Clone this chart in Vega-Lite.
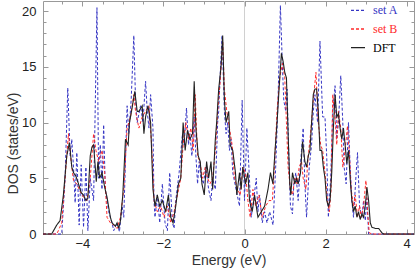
{
  "$schema": "https://vega.github.io/schema/vega-lite/v6.json",
  "width": 371,
  "height": 233,
  "autosize": "none",
  "padding": {"left": 43, "top": 1, "right": 1, "bottom": 37},
  "config": {
    "view": {"stroke": "#999999", "strokeWidth": 1},
    "axis": {"grid": false, "domain": false, "tickColor": "#999999", "tickWidth": 1}
  },
  "datasets": {
    "A": [
      {"E":-4.97,"DOS":0,"series":"set A"},{"E":-4.508,"DOS":0,"series":"set A"},{"E":-4.425,"DOS":5,"series":"set A"},{"E":-4.359,"DOS":13.1,"series":"set A"},{"E":-4.301,"DOS":7,"series":"set A"},{"E":-4.26,"DOS":8.5,"series":"set A"},{"E":-4.218,"DOS":6,"series":"set A"},{"E":-4.177,"DOS":2.8,"series":"set A"},{"E":-4.136,"DOS":7.3,"series":"set A"},{"E":-4.078,"DOS":0.8,"series":"set A"},{"E":-4.028,"DOS":6.2,"series":"set A"},{"E":-3.97,"DOS":0.6,"series":"set A"},{"E":-3.912,"DOS":6,"series":"set A"},{"E":-3.863,"DOS":0.3,"series":"set A"},{"E":-3.805,"DOS":5,"series":"set A"},{"E":-3.722,"DOS":3,"series":"set A"},{"E":-3.639,"DOS":20.3,"series":"set A"},{"E":-3.598,"DOS":5,"series":"set A"},{"E":-3.557,"DOS":8,"series":"set A"},{"E":-3.515,"DOS":4,"series":"set A"},{"E":-3.474,"DOS":9.8,"series":"set A"},{"E":-3.433,"DOS":4,"series":"set A"},{"E":-3.35,"DOS":2,"series":"set A"},{"E":-3.267,"DOS":1,"series":"set A"},{"E":-3.226,"DOS":0.3,"series":"set A"},{"E":-3.143,"DOS":1,"series":"set A"},{"E":-3.085,"DOS":0.2,"series":"set A"},{"E":-3.019,"DOS":2.5,"series":"set A"},{"E":-2.978,"DOS":1.5,"series":"set A"},{"E":-2.895,"DOS":11.5,"series":"set A"},{"E":-2.854,"DOS":9,"series":"set A"},{"E":-2.796,"DOS":12,"series":"set A"},{"E":-2.73,"DOS":17.8,"series":"set A"},{"E":-2.688,"DOS":12,"series":"set A"},{"E":-2.647,"DOS":10,"series":"set A"},{"E":-2.564,"DOS":11.5,"series":"set A"},{"E":-2.506,"DOS":10,"series":"set A"},{"E":-2.44,"DOS":13.7,"series":"set A"},{"E":-2.399,"DOS":11,"series":"set A"},{"E":-2.357,"DOS":9.5,"series":"set A"},{"E":-2.316,"DOS":12.5,"series":"set A"},{"E":-2.258,"DOS":9.5,"series":"set A"},{"E":-2.233,"DOS":3,"series":"set A"},{"E":-2.208,"DOS":1.5,"series":"set A"},{"E":-2.15,"DOS":3.5,"series":"set A"},{"E":-2.092,"DOS":1,"series":"set A"},{"E":-2.026,"DOS":4.5,"series":"set A"},{"E":-1.96,"DOS":1,"series":"set A"},{"E":-1.902,"DOS":0.3,"series":"set A"},{"E":-1.845,"DOS":5.5,"series":"set A"},{"E":-1.778,"DOS":1,"series":"set A"},{"E":-1.737,"DOS":0.5,"series":"set A"},{"E":-1.696,"DOS":3,"series":"set A"},{"E":-1.613,"DOS":5.5,"series":"set A"},{"E":-1.53,"DOS":9,"series":"set A"},{"E":-1.489,"DOS":8,"series":"set A"},{"E":-1.431,"DOS":11.3,"series":"set A"},{"E":-1.381,"DOS":8,"series":"set A"},{"E":-1.348,"DOS":9,"series":"set A"},{"E":-1.298,"DOS":7,"series":"set A"},{"E":-1.241,"DOS":10.5,"series":"set A"},{"E":-1.199,"DOS":7,"series":"set A"},{"E":-1.158,"DOS":4.5,"series":"set A"},{"E":-1.117,"DOS":6.5,"series":"set A"},{"E":-1.075,"DOS":5,"series":"set A"},{"E":-1.017,"DOS":4.5,"series":"set A"},{"E":-0.951,"DOS":6,"series":"set A"},{"E":-0.885,"DOS":4,"series":"set A"},{"E":-0.827,"DOS":3,"series":"set A"},{"E":-0.786,"DOS":5,"series":"set A"},{"E":-0.72,"DOS":4,"series":"set A"},{"E":-0.662,"DOS":10,"series":"set A"},{"E":-0.637,"DOS":11,"series":"set A"},{"E":-0.604,"DOS":14,"series":"set A"},{"E":-0.554,"DOS":17.8,"series":"set A"},{"E":-0.496,"DOS":11,"series":"set A"},{"E":-0.455,"DOS":9,"series":"set A"},{"E":-0.414,"DOS":10,"series":"set A"},{"E":-0.372,"DOS":7.5,"series":"set A"},{"E":-0.331,"DOS":8.5,"series":"set A"},{"E":-0.29,"DOS":5.5,"series":"set A"},{"E":-0.207,"DOS":4,"series":"set A"},{"E":-0.124,"DOS":2.5,"series":"set A"},{"E":-0.058,"DOS":12,"series":"set A"},{"E":0,"DOS":3,"series":"set A"},{"E":0.058,"DOS":9.5,"series":"set A"},{"E":0.108,"DOS":6,"series":"set A"},{"E":0.165,"DOS":1.5,"series":"set A"},{"E":0.223,"DOS":3,"series":"set A"},{"E":0.29,"DOS":5,"series":"set A"},{"E":0.331,"DOS":2,"series":"set A"},{"E":0.372,"DOS":3.5,"series":"set A"},{"E":0.438,"DOS":1,"series":"set A"},{"E":0.496,"DOS":2,"series":"set A"},{"E":0.555,"DOS":1,"series":"set A"},{"E":0.62,"DOS":2,"series":"set A"},{"E":0.703,"DOS":0.8,"series":"set A"},{"E":0.769,"DOS":6,"series":"set A"},{"E":0.827,"DOS":12,"series":"set A"},{"E":0.885,"DOS":20.5,"series":"set A"},{"E":0.935,"DOS":15,"series":"set A"},{"E":0.968,"DOS":12,"series":"set A"},{"E":1.017,"DOS":11,"series":"set A"},{"E":1.05,"DOS":13,"series":"set A"},{"E":1.1,"DOS":6,"series":"set A"},{"E":1.133,"DOS":2.5,"series":"set A"},{"E":1.183,"DOS":1.8,"series":"set A"},{"E":1.216,"DOS":4.5,"series":"set A"},{"E":1.265,"DOS":5.5,"series":"set A"},{"E":1.323,"DOS":3,"series":"set A"},{"E":1.365,"DOS":5.5,"series":"set A"},{"E":1.406,"DOS":7.5,"series":"set A"},{"E":1.447,"DOS":9.5,"series":"set A"},{"E":1.489,"DOS":4.5,"series":"set A"},{"E":1.53,"DOS":1.5,"series":"set A"},{"E":1.596,"DOS":6,"series":"set A"},{"E":1.654,"DOS":8,"series":"set A"},{"E":1.696,"DOS":11,"series":"set A"},{"E":1.737,"DOS":12.5,"series":"set A"},{"E":1.803,"DOS":10,"series":"set A"},{"E":1.861,"DOS":17.3,"series":"set A"},{"E":1.927,"DOS":10.5,"series":"set A"},{"E":1.985,"DOS":10.5,"series":"set A"},{"E":2.027,"DOS":7,"series":"set A"},{"E":2.068,"DOS":1.5,"series":"set A"},{"E":2.126,"DOS":5,"series":"set A"},{"E":2.176,"DOS":11,"series":"set A"},{"E":2.233,"DOS":13.3,"series":"set A"},{"E":2.275,"DOS":8.5,"series":"set A"},{"E":2.316,"DOS":10,"series":"set A"},{"E":2.374,"DOS":14.2,"series":"set A"},{"E":2.424,"DOS":10,"series":"set A"},{"E":2.457,"DOS":6,"series":"set A"},{"E":2.506,"DOS":4.5,"series":"set A"},{"E":2.564,"DOS":10,"series":"set A"},{"E":2.605,"DOS":6,"series":"set A"},{"E":2.647,"DOS":3,"series":"set A"},{"E":2.688,"DOS":1.5,"series":"set A"},{"E":2.754,"DOS":5.5,"series":"set A"},{"E":2.787,"DOS":7.3,"series":"set A"},{"E":2.837,"DOS":2.5,"series":"set A"},{"E":2.895,"DOS":1.5,"series":"set A"},{"E":2.936,"DOS":3,"series":"set A"},{"E":2.978,"DOS":1.2,"series":"set A"},{"E":3.019,"DOS":3.2,"series":"set A"},{"E":3.06,"DOS":0,"series":"set A"},{"E":4.18,"DOS":0,"series":"set A"}
    ],
    "B": [
      {"E":-4.97,"DOS":0,"series":"set B"},{"E":-4.632,"DOS":0,"series":"set B"},{"E":-4.591,"DOS":0.3,"series":"set B"},{"E":-4.508,"DOS":1,"series":"set B"},{"E":-4.425,"DOS":5,"series":"set B"},{"E":-4.342,"DOS":9,"series":"set B"},{"E":-4.276,"DOS":6.5,"series":"set B"},{"E":-4.218,"DOS":4.8,"series":"set B"},{"E":-4.136,"DOS":4.5,"series":"set B"},{"E":-4.053,"DOS":3.8,"series":"set B"},{"E":-3.97,"DOS":3.3,"series":"set B"},{"E":-3.888,"DOS":3,"series":"set B"},{"E":-3.805,"DOS":5,"series":"set B"},{"E":-3.722,"DOS":9,"series":"set B"},{"E":-3.664,"DOS":7.5,"series":"set B"},{"E":-3.598,"DOS":6.5,"series":"set B"},{"E":-3.515,"DOS":7.5,"series":"set B"},{"E":-3.449,"DOS":5.5,"series":"set B"},{"E":-3.391,"DOS":1.5,"series":"set B"},{"E":-3.308,"DOS":1,"series":"set B"},{"E":-3.226,"DOS":0.8,"series":"set B"},{"E":-3.143,"DOS":0.5,"series":"set B"},{"E":-3.06,"DOS":1.5,"series":"set B"},{"E":-2.978,"DOS":4,"series":"set B"},{"E":-2.895,"DOS":9.5,"series":"set B"},{"E":-2.812,"DOS":10.5,"series":"set B"},{"E":-2.73,"DOS":12.5,"series":"set B"},{"E":-2.688,"DOS":11,"series":"set B"},{"E":-2.605,"DOS":9.5,"series":"set B"},{"E":-2.523,"DOS":10.5,"series":"set B"},{"E":-2.44,"DOS":11,"series":"set B"},{"E":-2.357,"DOS":11.5,"series":"set B"},{"E":-2.291,"DOS":8,"series":"set B"},{"E":-2.233,"DOS":3,"series":"set B"},{"E":-2.15,"DOS":2,"series":"set B"},{"E":-2.068,"DOS":2.5,"series":"set B"},{"E":-1.985,"DOS":1.5,"series":"set B"},{"E":-1.902,"DOS":2.5,"series":"set B"},{"E":-1.82,"DOS":1,"series":"set B"},{"E":-1.737,"DOS":2,"series":"set B"},{"E":-1.654,"DOS":3.5,"series":"set B"},{"E":-1.572,"DOS":5,"series":"set B"},{"E":-1.514,"DOS":8,"series":"set B"},{"E":-1.447,"DOS":10,"series":"set B"},{"E":-1.381,"DOS":8.5,"series":"set B"},{"E":-1.323,"DOS":9.5,"series":"set B"},{"E":-1.265,"DOS":7.5,"series":"set B"},{"E":-1.216,"DOS":12.5,"series":"set B"},{"E":-1.158,"DOS":7,"series":"set B"},{"E":-1.1,"DOS":6.5,"series":"set B"},{"E":-1.034,"DOS":5,"series":"set B"},{"E":-0.968,"DOS":6,"series":"set B"},{"E":-0.91,"DOS":5,"series":"set B"},{"E":-0.852,"DOS":4.5,"series":"set B"},{"E":-0.786,"DOS":5,"series":"set B"},{"E":-0.72,"DOS":7.5,"series":"set B"},{"E":-0.662,"DOS":11,"series":"set B"},{"E":-0.604,"DOS":13.5,"series":"set B"},{"E":-0.538,"DOS":17.3,"series":"set B"},{"E":-0.496,"DOS":13,"series":"set B"},{"E":-0.438,"DOS":11,"series":"set B"},{"E":-0.372,"DOS":9.5,"series":"set B"},{"E":-0.306,"DOS":8,"series":"set B"},{"E":-0.248,"DOS":5,"series":"set B"},{"E":-0.165,"DOS":4,"series":"set B"},{"E":-0.107,"DOS":3.5,"series":"set B"},{"E":-0.041,"DOS":6,"series":"set B"},{"E":0.025,"DOS":5.5,"series":"set B"},{"E":0.083,"DOS":3,"series":"set B"},{"E":0.141,"DOS":1.5,"series":"set B"},{"E":0.207,"DOS":4,"series":"set B"},{"E":0.273,"DOS":2.5,"series":"set B"},{"E":0.356,"DOS":3.5,"series":"set B"},{"E":0.438,"DOS":1.5,"series":"set B"},{"E":0.521,"DOS":2.5,"series":"set B"},{"E":0.604,"DOS":3,"series":"set B"},{"E":0.687,"DOS":3,"series":"set B"},{"E":0.744,"DOS":6.5,"series":"set B"},{"E":0.802,"DOS":11,"series":"set B"},{"E":0.868,"DOS":14,"series":"set B"},{"E":0.935,"DOS":15.3,"series":"set B"},{"E":0.993,"DOS":14,"series":"set B"},{"E":1.034,"DOS":10,"series":"set B"},{"E":1.075,"DOS":6,"series":"set B"},{"E":1.133,"DOS":4,"series":"set B"},{"E":1.183,"DOS":3.5,"series":"set B"},{"E":1.241,"DOS":5,"series":"set B"},{"E":1.298,"DOS":4.5,"series":"set B"},{"E":1.348,"DOS":6,"series":"set B"},{"E":1.406,"DOS":6.5,"series":"set B"},{"E":1.447,"DOS":5,"series":"set B"},{"E":1.514,"DOS":4,"series":"set B"},{"E":1.572,"DOS":7,"series":"set B"},{"E":1.629,"DOS":9,"series":"set B"},{"E":1.696,"DOS":12,"series":"set B"},{"E":1.762,"DOS":14.5,"series":"set B"},{"E":1.82,"DOS":10,"series":"set B"},{"E":1.878,"DOS":8,"series":"set B"},{"E":1.927,"DOS":7.5,"series":"set B"},{"E":1.985,"DOS":5.5,"series":"set B"},{"E":2.043,"DOS":3,"series":"set B"},{"E":2.093,"DOS":2,"series":"set B"},{"E":2.134,"DOS":4,"series":"set B"},{"E":2.176,"DOS":12.5,"series":"set B"},{"E":2.233,"DOS":10.5,"series":"set B"},{"E":2.275,"DOS":8,"series":"set B"},{"E":2.316,"DOS":11,"series":"set B"},{"E":2.374,"DOS":9.5,"series":"set B"},{"E":2.424,"DOS":6,"series":"set B"},{"E":2.481,"DOS":7.5,"series":"set B"},{"E":2.539,"DOS":9.7,"series":"set B"},{"E":2.589,"DOS":7,"series":"set B"},{"E":2.63,"DOS":4,"series":"set B"},{"E":2.688,"DOS":2.5,"series":"set B"},{"E":2.73,"DOS":3.5,"series":"set B"},{"E":2.787,"DOS":1.5,"series":"set B"},{"E":2.837,"DOS":2.5,"series":"set B"},{"E":2.878,"DOS":1.5,"series":"set B"},{"E":2.936,"DOS":2.5,"series":"set B"},{"E":2.994,"DOS":4.8,"series":"set B"},{"E":3.035,"DOS":2,"series":"set B"},{"E":3.077,"DOS":0.1,"series":"set B"},{"E":3.15,"DOS":0,"series":"set B"},{"E":4.18,"DOS":0,"series":"set B"}
    ],
    "D": [
      {"E":-4.97,"DOS":0,"series":"DFT"},{"E":-4.756,"DOS":0,"series":"DFT"},{"E":-4.632,"DOS":0.8,"series":"DFT"},{"E":-4.549,"DOS":1.2,"series":"DFT"},{"E":-4.467,"DOS":3.5,"series":"DFT"},{"E":-4.384,"DOS":7,"series":"DFT"},{"E":-4.318,"DOS":8.2,"series":"DFT"},{"E":-4.26,"DOS":6,"series":"DFT"},{"E":-4.218,"DOS":5.5,"series":"DFT"},{"E":-4.16,"DOS":5.2,"series":"DFT"},{"E":-4.094,"DOS":4.5,"series":"DFT"},{"E":-4.028,"DOS":3.7,"series":"DFT"},{"E":-3.97,"DOS":3.5,"series":"DFT"},{"E":-3.912,"DOS":3,"series":"DFT"},{"E":-3.863,"DOS":3.2,"series":"DFT"},{"E":-3.805,"DOS":7,"series":"DFT"},{"E":-3.763,"DOS":7.8,"series":"DFT"},{"E":-3.722,"DOS":8,"series":"DFT"},{"E":-3.681,"DOS":6,"series":"DFT"},{"E":-3.656,"DOS":4.7,"series":"DFT"},{"E":-3.615,"DOS":6.5,"series":"DFT"},{"E":-3.573,"DOS":5,"series":"DFT"},{"E":-3.515,"DOS":5.5,"series":"DFT"},{"E":-3.449,"DOS":4.2,"series":"DFT"},{"E":-3.391,"DOS":3.3,"series":"DFT"},{"E":-3.308,"DOS":1.5,"series":"DFT"},{"E":-3.267,"DOS":1,"series":"DFT"},{"E":-3.184,"DOS":0.7,"series":"DFT"},{"E":-3.143,"DOS":1,"series":"DFT"},{"E":-3.102,"DOS":0.5,"series":"DFT"},{"E":-3.06,"DOS":1.2,"series":"DFT"},{"E":-3.002,"DOS":3.5,"series":"DFT"},{"E":-2.936,"DOS":8.5,"series":"DFT"},{"E":-2.87,"DOS":8,"series":"DFT"},{"E":-2.837,"DOS":10,"series":"DFT"},{"E":-2.787,"DOS":11,"series":"DFT"},{"E":-2.705,"DOS":12.8,"series":"DFT"},{"E":-2.647,"DOS":11,"series":"DFT"},{"E":-2.605,"DOS":11,"series":"DFT"},{"E":-2.523,"DOS":11.5,"series":"DFT"},{"E":-2.481,"DOS":9,"series":"DFT"},{"E":-2.44,"DOS":10.5,"series":"DFT"},{"E":-2.382,"DOS":11.5,"series":"DFT"},{"E":-2.316,"DOS":10,"series":"DFT"},{"E":-2.258,"DOS":4,"series":"DFT"},{"E":-2.208,"DOS":2.5,"series":"DFT"},{"E":-2.15,"DOS":3.5,"series":"DFT"},{"E":-2.092,"DOS":2.5,"series":"DFT"},{"E":-2.026,"DOS":3,"series":"DFT"},{"E":-1.944,"DOS":2,"series":"DFT"},{"E":-1.878,"DOS":3.5,"series":"DFT"},{"E":-1.82,"DOS":1.5,"series":"DFT"},{"E":-1.762,"DOS":1,"series":"DFT"},{"E":-1.696,"DOS":2.5,"series":"DFT"},{"E":-1.629,"DOS":4.5,"series":"DFT"},{"E":-1.572,"DOS":5,"series":"DFT"},{"E":-1.514,"DOS":10,"series":"DFT"},{"E":-1.464,"DOS":7.5,"series":"DFT"},{"E":-1.406,"DOS":9.3,"series":"DFT"},{"E":-1.348,"DOS":8.5,"series":"DFT"},{"E":-1.282,"DOS":9,"series":"DFT"},{"E":-1.241,"DOS":13.7,"series":"DFT"},{"E":-1.199,"DOS":9.5,"series":"DFT"},{"E":-1.141,"DOS":7,"series":"DFT"},{"E":-1.092,"DOS":6.5,"series":"DFT"},{"E":-1.05,"DOS":4.5,"series":"DFT"},{"E":-0.993,"DOS":3.5,"series":"DFT"},{"E":-0.935,"DOS":6.5,"series":"DFT"},{"E":-0.885,"DOS":5,"series":"DFT"},{"E":-0.827,"DOS":6.5,"series":"DFT"},{"E":-0.786,"DOS":4,"series":"DFT"},{"E":-0.72,"DOS":8.5,"series":"DFT"},{"E":-0.687,"DOS":10,"series":"DFT"},{"E":-0.637,"DOS":13,"series":"DFT"},{"E":-0.579,"DOS":15,"series":"DFT"},{"E":-0.538,"DOS":17.8,"series":"DFT"},{"E":-0.496,"DOS":12,"series":"DFT"},{"E":-0.455,"DOS":10,"series":"DFT"},{"E":-0.389,"DOS":11,"series":"DFT"},{"E":-0.356,"DOS":8,"series":"DFT"},{"E":-0.29,"DOS":7.5,"series":"DFT"},{"E":-0.223,"DOS":5.5,"series":"DFT"},{"E":-0.19,"DOS":3.5,"series":"DFT"},{"E":-0.124,"DOS":5.5,"series":"DFT"},{"E":-0.083,"DOS":4,"series":"DFT"},{"E":-0.041,"DOS":6,"series":"DFT"},{"E":0.025,"DOS":4.5,"series":"DFT"},{"E":0.083,"DOS":5.5,"series":"DFT"},{"E":0.124,"DOS":3,"series":"DFT"},{"E":0.19,"DOS":2,"series":"DFT"},{"E":0.248,"DOS":3.5,"series":"DFT"},{"E":0.331,"DOS":1.5,"series":"DFT"},{"E":0.414,"DOS":2,"series":"DFT"},{"E":0.496,"DOS":2.5,"series":"DFT"},{"E":0.579,"DOS":4,"series":"DFT"},{"E":0.64,"DOS":5.5,"series":"DFT"},{"E":0.7,"DOS":4.5,"series":"DFT"},{"E":0.744,"DOS":7,"series":"DFT"},{"E":0.802,"DOS":10,"series":"DFT"},{"E":0.852,"DOS":13,"series":"DFT"},{"E":0.91,"DOS":16.2,"series":"DFT"},{"E":0.951,"DOS":15.5,"series":"DFT"},{"E":0.993,"DOS":14.5,"series":"DFT"},{"E":1.034,"DOS":14,"series":"DFT"},{"E":1.075,"DOS":9,"series":"DFT"},{"E":1.117,"DOS":4.5,"series":"DFT"},{"E":1.141,"DOS":3.5,"series":"DFT"},{"E":1.183,"DOS":5.5,"series":"DFT"},{"E":1.241,"DOS":4.5,"series":"DFT"},{"E":1.282,"DOS":5,"series":"DFT"},{"E":1.323,"DOS":4.5,"series":"DFT"},{"E":1.381,"DOS":5.5,"series":"DFT"},{"E":1.431,"DOS":8.3,"series":"DFT"},{"E":1.489,"DOS":6.5,"series":"DFT"},{"E":1.53,"DOS":6,"series":"DFT"},{"E":1.572,"DOS":7,"series":"DFT"},{"E":1.613,"DOS":7.5,"series":"DFT"},{"E":1.654,"DOS":10,"series":"DFT"},{"E":1.696,"DOS":12.5,"series":"DFT"},{"E":1.737,"DOS":13,"series":"DFT"},{"E":1.778,"DOS":13,"series":"DFT"},{"E":1.82,"DOS":11,"series":"DFT"},{"E":1.861,"DOS":7.5,"series":"DFT"},{"E":1.903,"DOS":7.5,"series":"DFT"},{"E":1.944,"DOS":6,"series":"DFT"},{"E":1.985,"DOS":5,"series":"DFT"},{"E":2.027,"DOS":3,"series":"DFT"},{"E":2.068,"DOS":2.5,"series":"DFT"},{"E":2.109,"DOS":3,"series":"DFT"},{"E":2.151,"DOS":5.5,"series":"DFT"},{"E":2.192,"DOS":9.5,"series":"DFT"},{"E":2.233,"DOS":12.5,"series":"DFT"},{"E":2.275,"DOS":10.5,"series":"DFT"},{"E":2.316,"DOS":10.8,"series":"DFT"},{"E":2.357,"DOS":9.5,"series":"DFT"},{"E":2.399,"DOS":8.5,"series":"DFT"},{"E":2.44,"DOS":9.5,"series":"DFT"},{"E":2.481,"DOS":8,"series":"DFT"},{"E":2.523,"DOS":6.3,"series":"DFT"},{"E":2.564,"DOS":7.5,"series":"DFT"},{"E":2.605,"DOS":5,"series":"DFT"},{"E":2.647,"DOS":3,"series":"DFT"},{"E":2.688,"DOS":2,"series":"DFT"},{"E":2.73,"DOS":2.5,"series":"DFT"},{"E":2.771,"DOS":1.5,"series":"DFT"},{"E":2.812,"DOS":2,"series":"DFT"},{"E":2.854,"DOS":1.3,"series":"DFT"},{"E":2.895,"DOS":1.8,"series":"DFT"},{"E":2.936,"DOS":1.5,"series":"DFT"},{"E":2.978,"DOS":2.5,"series":"DFT"},{"E":3.019,"DOS":4.2,"series":"DFT"},{"E":3.06,"DOS":3,"series":"DFT"},{"E":3.102,"DOS":1,"series":"DFT"},{"E":3.143,"DOS":0.6,"series":"DFT"},{"E":3.226,"DOS":0.5,"series":"DFT"},{"E":3.308,"DOS":0.5,"series":"DFT"},{"E":3.391,"DOS":0.1,"series":"DFT"},{"E":3.433,"DOS":0,"series":"DFT"},{"E":4.18,"DOS":0,"series":"DFT"}
    ]
  },
  "layer": [
    {
      "data": {"values": [{"E": 0}]},
      "mark": {"type": "rule", "color": "#d0d0d0", "strokeWidth": 1},
      "encoding": {
        "x": {"field": "E", "type": "quantitative",
          "scale": {"domain": [-4.97, 4.18], "nice": false, "zero": false},
          "axis": {"orient": "top", "offset": -3, "tickSize": 3, "values": [-4.5,-3.5,-3,-2.5,-1.5,-1,-0.5,0.5,1,1.5,2.5,3,3.5], "labels": false, "title": null}},
        "y": {"datum": 0, "type": "quantitative",
          "scale": {"domain": [0, 20.9], "nice": false, "zero": false},
          "axis": {"orient": "right", "offset": -3, "tickSize": 3, "values": [1,2,3,4,6,7,8,9,11,12,13,14,16,17,18,19], "labels": false, "title": null}},
        "y2": {"datum": 20.9}
      }
    },
    {
      "data": {"name": "A"},
      "mark": {"type": "line", "strokeWidth": 1},
      "encoding": {
        "x": {"field": "E", "type": "quantitative",
          "axis": {"orient": "bottom", "offset": -5, "tickSize": 5, "values": [-4,-2,0,2,4], "labelFont": "Liberation Sans", "labelFontSize": 13, "labelColor": "#222222", "labelPadding": 3, "title": "Energy (eV)", "titleFont": "Liberation Sans", "titleFontSize": 14, "titleFontWeight": "normal", "titleColor": "#333333", "titlePadding": 3}},
        "y": {"field": "DOS", "type": "quantitative",
          "axis": {"orient": "left", "offset": -5, "tickSize": 5, "values": [0,5,10,15,20], "labelFont": "Liberation Sans", "labelFontSize": 13, "labelColor": "#222222", "labelPadding": 7, "title": "DOS (states/eV)", "titleFont": "Liberation Sans", "titleFontSize": 14, "titleFontWeight": "normal", "titleColor": "#333333", "titleAngle": -90, "titleBaseline": "middle", "titleX": -35, "titleY": 142}},
        "color": {"field": "series", "type": "nominal",
          "scale": {"domain": ["set A", "set B", "DFT"], "range": ["#3535c4", "#ff2a2a", "#222222"]},
          "legend": {"title": null, "orient": "none", "legendX": 307, "legendY": 1.3, "padding": 0, "symbolType": "stroke", "symbolSize": 196, "symbolStrokeWidth": 1.3, "labelFont": "Liberation Serif", "labelFontSize": 12, "labelOffset": 7, "rowPadding": 4.7, "labelColor": {"expr": "datum.value === 'set A' ? '#3535c4' : datum.value === 'set B' ? '#ff2a2a' : '#000000'"}}},
        "strokeDash": {"field": "series", "type": "nominal",
          "scale": {"domain": ["set A", "set B", "DFT"], "range": [[3, 2], [3, 2], [1, 0]]},
          "legend": {"title": null, "orient": "none", "legendX": 307, "legendY": 1.3, "padding": 0, "symbolType": "stroke", "symbolSize": 196, "symbolStrokeWidth": 1.3, "labelFont": "Liberation Serif", "labelFontSize": 12, "labelOffset": 7, "rowPadding": 4.7, "labelColor": {"expr": "datum.value === 'set A' ? '#3535c4' : datum.value === 'set B' ? '#ff2a2a' : '#000000'"}}}
      }
    },
    {
      "data": {"name": "B"},
      "mark": {"type": "line", "strokeWidth": 1},
      "encoding": {
        "x": {"field": "E", "type": "quantitative",
          "axis": {"orient": "bottom", "offset": -3, "tickSize": 3, "values": [-4.5,-3.5,-3,-2.5,-1.5,-1,-0.5,0.5,1,1.5,2.5,3,3.5], "labels": false, "title": null}},
        "y": {"field": "DOS", "type": "quantitative",
          "axis": {"orient": "left", "offset": -3, "tickSize": 3, "values": [1,2,3,4,6,7,8,9,11,12,13,14,16,17,18,19], "labels": false, "title": null}},
        "color": {"field": "series", "type": "nominal"},
        "strokeDash": {"field": "series", "type": "nominal"}
      }
    },
    {
      "data": {"name": "D"},
      "mark": {"type": "line", "strokeWidth": 1.1},
      "encoding": {
        "x": {"field": "E", "type": "quantitative",
          "axis": {"orient": "top", "offset": -5, "tickSize": 5, "values": [-4,-2,0,2,4], "labels": false, "title": null}},
        "y": {"field": "DOS", "type": "quantitative",
          "axis": {"orient": "right", "offset": -5, "tickSize": 5, "values": [0,5,10,15,20], "labels": false, "title": null}},
        "color": {"field": "series", "type": "nominal"},
        "strokeDash": {"field": "series", "type": "nominal"}
      }
    }
  ],
  "resolve": {"axis": {"x": "independent", "y": "independent"}}
}
